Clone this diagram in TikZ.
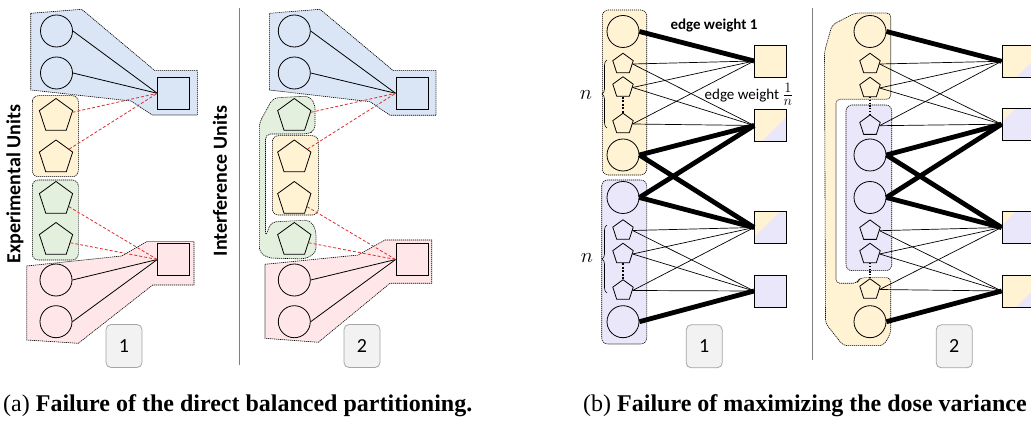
\documentclass[tikz,border=0pt]{standalone}
\usepackage{fontspec}
\usepackage{graphicx}
\setmainfont{Carlito}
\newfontfamily\capfont{Liberation Serif}
\usetikzlibrary{shapes.geometric,decorations.pathreplacing}
\definecolor{bluefill}{RGB}{218,230,245}
\definecolor{yelfill}{RGB}{255,243,212}
\definecolor{grnfill}{RGB}{228,240,222}
\definecolor{pnkfill}{RGB}{255,230,232}
\definecolor{purfill}{RGB}{235,231,250}
\definecolor{boxgray}{RGB}{242,242,242}
\definecolor{edgegray}{RGB}{165,165,165}
\definecolor{dashred}{RGB}{222,45,45}
\tikzset{circ/.style={circle,draw,line width=0.8pt,minimum size=32pt,inner sep=0pt}}
\tikzset{pent/.style={regular polygon,regular polygon sides=5,draw,line width=0.8pt,minimum size=35pt,inner sep=0pt}}
\tikzset{spent/.style={pent,minimum size=21.5pt}}
\tikzset{sqr/.style={rectangle,draw,line width=0.8pt,minimum size=32pt,inner sep=0pt}}
\tikzset{splitYP/.style={sqr,fill=yelfill,path picture={\fill[purfill] (path picture bounding box.south east) -- ++(-#1,0pt) -- ++(#1,#1) -- cycle;}}}
\tikzset{splitPY/.style={sqr,fill=purfill,path picture={\fill[yelfill] (path picture bounding box.north west) -- ++(#1,0pt) -- ++(-#1,-#1) -- cycle;}}}
\tikzset{grp/.style={draw=black,line width=0.6pt,dash pattern=on 1.2pt off 0.8pt}}
\tikzset{numbox/.style={rectangle,rounded corners=5pt,draw=edgegray,fill=boxgray,line width=0.8pt,minimum width=36pt,minimum height=43pt,font=\fontsize{20}{24}\selectfont}}
\tikzset{unitlbl/.style={rotate=90,font=\fontsize{20}{24}\selectfont\bfseries}}
\tikzset{rdash/.style={dashred,line width=0.8pt,dash pattern=on 3pt off 2pt}}
\tikzset{heavy/.style={line width=4.8pt}}
\tikzset{light/.style={line width=0.7pt}}
\tikzset{divider/.style={draw=gray,line width=1pt}}

\begin{document}
\begin{tikzpicture}[x=1pt,y=-1pt]
        \useasboundingbox (0,0) rectangle (1031,430);
        \clip (0,0) rectangle (1031,430);

        % regions, part (a)
        \draw[grp,fill=bluefill] (30.7,13.3) -- (81.7,9.3) -- (155,70.7) -- (197.3,70.7) -- (197.3,115) -- (152.3,115) -- (131,101) -- (30.7,90) -- cycle;
        \draw[grp,fill=yelfill,rounded corners=6pt] (32.3,95.7) rectangle (78.3,176.7);
        \draw[grp,fill=grnfill,rounded corners=6pt] (32.3,180) rectangle (78.3,260);
        \draw[grp,fill=pnkfill] (26.7,266) -- (121.7,256) -- (146.7,241.7) -- (194,241.7) -- (194,285) -- (152.7,285) -- (78.3,343.3) -- (26.7,340) -- cycle;

        \draw[grp,fill=bluefill] (269.3,13.3) -- (320,9.3) -- (393.3,70.7) -- (436,70.7) -- (436,115.3) -- (390,115.3) -- (370,101.7) -- (269.3,90) -- cycle;
        \draw[grp,fill=grnfill,rounded corners=5pt] (259.3,123) -- (273,98) -- (309,96) -- (315,104) -- (315,131) -- (307,134) -- (265.5,134) -- (265.5,237) -- (271,222) -- (310,220) -- (316,230) -- (316,253) -- (305,259) -- (268,258) -- (259.3,252) -- cycle;
        \draw[grp,fill=yelfill,rounded corners=6pt] (272.3,135.7) rectangle (318.3,215);
        \draw[grp,fill=pnkfill] (265,264.3) -- (358.3,255) -- (385,240) -- (431.7,240) -- (431.7,283.3) -- (390,283.3) -- (318.3,342.3) -- (265,338.3) -- cycle;

        % regions, part (b)
        \draw[grp,fill=yelfill,rounded corners=6pt] (602.3,10) rectangle (646.7,175);
        \draw[grp,fill=purfill,rounded corners=6pt] (601.7,180) rectangle (646.7,344);
        \draw[grp,fill=yelfill,rounded corners=4pt] (832,25) -- (855,13) -- (890.7,13) -- (890.7,99.3) -- (836,99.3) -- (836,283.3) -- (857,283.3) -- (860,277.7) -- (890.7,277.7) -- (890.7,333.3) -- (883.3,345.7) -- (843.3,345.7) -- (825.5,323.3) -- (824.5,51.7) -- cycle;
        \draw[grp,fill=purfill,rounded corners=6pt] (846,105) rectangle (891.7,270.7);

        \draw[divider] (239.5,8) -- (239.5,365);
        \draw[divider] (812.7,8) -- (812.7,360);

        % part (a), panel 1
        \node[circ] (c1) at (56.5,31) {};
        \node[circ] (c2) at (56.5,73) {};
        \node[sqr] (sqB1) at (173.7,93.3) {};
        \node[pent] (pY1) at (56,116) {};
        \node[pent] (pY2) at (56,157.5) {};
        \node[pent] (pG1) at (56,199) {};
        \node[pent] (pG2) at (56,240) {};
        \node[sqr] (sqR1) at (173.7,259.5) {};
        \node[circ] (c3) at (56,280) {};
        \node[circ] (c4) at (56,321.7) {};
        \node[numbox] (num1) at (124,346) {1};
        \node[unitlbl] (expl) at (15,184) {Experimental Units};

        \draw[line width=0.8pt] (c1.east) -- (sqB1.west);
        \draw[line width=0.8pt] (c2.east) -- (sqB1.west);
        \draw[line width=0.8pt] (c3.east) -- (sqR1.west);
        \draw[line width=0.8pt] (c4.east) -- (sqR1.west);
        \draw[rdash] (pY1) -- (sqB1.west);
        \draw[rdash] (pY2) -- (sqB1.west);
        \draw[rdash] (pG1) -- (sqR1.west);
        \draw[rdash] (pG2) -- (sqR1.west);

        % part (a), panel 2
        \node[circ] (c5) at (294.3,31) {};
        \node[circ] (c6) at (294.3,73) {};
        \node[sqr] (sqB2) at (412,93.3) {};
        \node[pent] (pG3) at (294.3,116) {};
        \node[pent] (pY3) at (294.3,157.5) {};
        \node[pent] (pY4) at (294.3,199) {};
        \node[pent] (pG4) at (294.3,240) {};
        \node[sqr] (sqR2) at (412,259.5) {};
        \node[circ] (c7) at (294.3,280) {};
        \node[circ] (c8) at (294.3,321.7) {};
        \node[numbox] (num2) at (362,346) {2};
        \node[unitlbl] (intf) at (220,181) {Interference Units};

        \draw[line width=0.8pt] (c5.east) -- (sqB2.west);
        \draw[line width=0.8pt] (c6.east) -- (sqB2.west);
        \draw[line width=0.8pt] (c7.east) -- (sqR2.west);
        \draw[line width=0.8pt] (c8.east) -- (sqR2.west);
        \draw[rdash] (pG3) -- (sqB2.west);
        \draw[rdash] (pY3) -- (sqB2.west);
        \draw[rdash] (pY4) -- (sqR2.west);
        \draw[rdash] (pG4) -- (sqR2.west);

        % part (b), panel 1
        \node[circ] (a1) at (623,31.5) {};
        \node[spent] (a2) at (623,64) {};
        \node[spent] (a3) at (623,87.5) {};
        \node[spent] (a4) at (623,124) {};
        \node[circ] (a5) at (623,155) {};
        \node[circ] (a6) at (623,197.5) {};
        \node[spent] (a7) at (623,230.5) {};
        \node[spent] (a8) at (623,254) {};
        \node[spent] (a9) at (623,290.5) {};
        \node[circ] (a10) at (623,321.7) {};
        \node[sqr,fill=yelfill] (qa1) at (770.5,61) {};
        \node[splitYP=25pt] (qa2) at (770.5,125.5) {};
        \node[splitPY=25pt] (qa3) at (770.5,227.5) {};
        \node[sqr,fill=purfill] (qa4) at (770.5,291) {};
        \node[numbox] (num3) at (704.2,346.3) {1};
        \node[font=\fontsize{15}{18}\selectfont\bfseries] (ew1) at (714,26) {edge weight 1};
        \node[font=\fontsize{15}{18}\selectfont] (ewn) at (749,94) {edge weight {\fontsize{19}{20}\selectfont$\frac{1}{n}$}};
        \node[font=\fontsize{20}{24}\selectfont] (nA) at (586,95) {$n$};
        \node[font=\fontsize{20}{24}\selectfont] (nB) at (587,258) {$n$};

        \draw[decorate,decoration={brace,amplitude=5pt},line width=0.6pt] (607,128) -- (607,60);
        \draw[decorate,decoration={brace,amplitude=5pt},line width=0.6pt] (607,293) -- (607,225);
        \draw[line width=2pt,dash pattern=on 2pt off 1.6pt] (a3.south) -- (a4.north);
        \draw[line width=2pt,dash pattern=on 2pt off 1.6pt] (a8.south) -- (a9.north);

        \draw[heavy] (a1.east) -- (qa1.west);
        \draw[light] (a2.east) -- (qa1.west);
        \draw[light] (a3.east) -- (qa1.west);
        \draw[light] (a4.east) -- (qa1.west);
        \draw[light] (a2.east) -- (qa2.west);
        \draw[light] (a3.east) -- (qa2.west);
        \draw[light] (a4.east) -- (qa2.west);
        \draw[heavy] (a5.east) -- (qa2.west);
        \draw[heavy] (a5.east) -- (qa3.west);
        \draw[heavy] (a6.east) -- (qa2.west);
        \draw[heavy] (a6.east) -- (qa3.west);
        \draw[light] (a7.east) -- (qa3.west);
        \draw[light] (a8.east) -- (qa3.west);
        \draw[light] (a9.east) -- (qa3.west);
        \draw[light] (a7.east) -- (qa4.west);
        \draw[light] (a8.east) -- (qa4.west);
        \draw[light] (a9.east) -- (qa4.west);
        \draw[heavy] (a10.east) -- (qa4.west);

        % part (b), panel 2
        \node[circ] (b1) at (870,31.5) {};
        \node[spent] (b2) at (870,64) {};
        \node[spent] (b3) at (870,88) {};
        \node[spent] (b4) at (870,125.7) {};
        \node[circ] (b5) at (870,155) {};
        \node[circ] (b6) at (870,197.5) {};
        \node[spent] (b7) at (870,230.7) {};
        \node[spent] (b8) at (870,254) {};
        \node[spent] (b9) at (870,289.5) {};
        \node[circ] (b10) at (870,321.7) {};
        \node[splitYP=18pt] (qb1) at (1018,61.3) {};
        \node[splitPY=13.5pt] (qb2) at (1018,124.2) {};
        \node[splitPY=13.5pt] (qb3) at (1018,227.5) {};
        \node[splitYP=18pt] (qb4) at (1018,291) {};
        \node[numbox] (num4) at (954.2,346.3) {2};

        \draw[line width=1.2pt,dash pattern=on 1.2pt off 1.6pt] (b3.south) -- (b4.north);
        \draw[line width=1.2pt,dash pattern=on 1.2pt off 1.6pt] (b8.south) -- (b9.north);

        \draw[heavy] (b1.east) -- (qb1.west);
        \draw[light] (b2.east) -- (qb1.west);
        \draw[light] (b3.east) -- (qb1.west);
        \draw[light] (b4.east) -- (qb1.west);
        \draw[light] (b2.east) -- (qb2.west);
        \draw[light] (b3.east) -- (qb2.west);
        \draw[light] (b4.east) -- (qb2.west);
        \draw[heavy] (b5.east) -- (qb2.west);
        \draw[heavy] (b5.east) -- (qb3.west);
        \draw[heavy] (b6.east) -- (qb2.west);
        \draw[heavy] (b6.east) -- (qb3.west);
        \draw[light] (b7.east) -- (qb3.west);
        \draw[light] (b8.east) -- (qb3.west);
        \draw[light] (b9.east) -- (qb3.west);
        \draw[light] (b7.east) -- (qb4.west);
        \draw[light] (b8.east) -- (qb4.west);
        \draw[light] (b9.east) -- (qb4.west);
        \draw[heavy] (b10.east) -- (qb4.west);

        % captions
        \node[anchor=base west,font=\capfont\fontsize{24}{28}\selectfont,inner sep=0pt] (capa) at (3,411) {(a) \textbf{Failure of the direct balanced partitioning.}};
        \node[anchor=base west,font=\capfont\fontsize{24}{28}\selectfont,inner sep=0pt] (capb) at (583,411) {(b) \textbf{Failure of maximizing the dose variance}};
\end{tikzpicture}
\end{document}
